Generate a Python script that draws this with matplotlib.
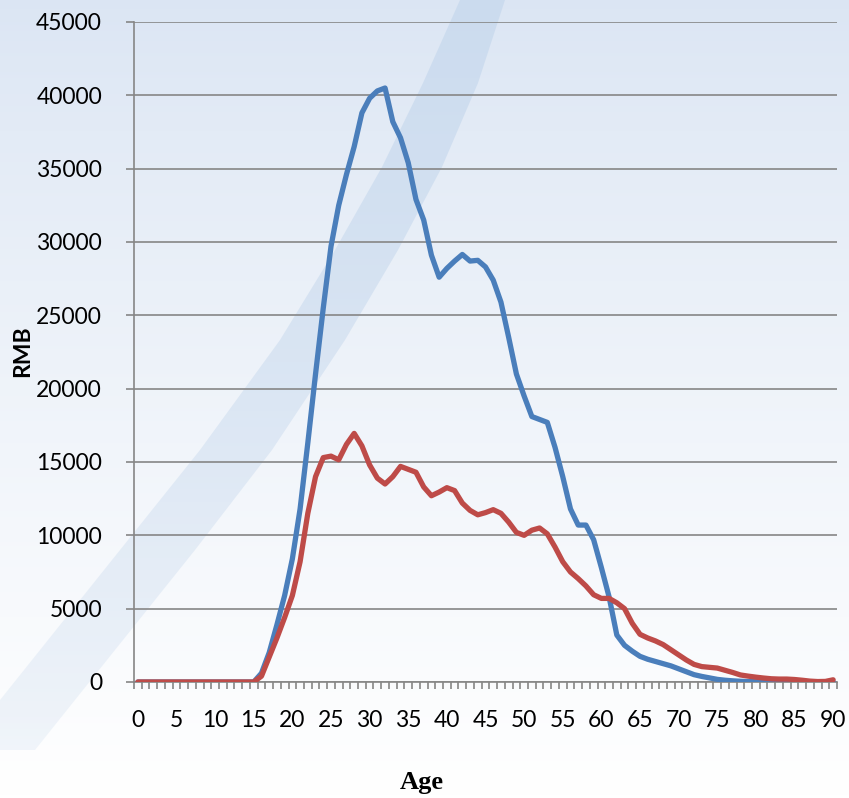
import numpy as np
import matplotlib.pyplot as plt
from matplotlib.patches import Polygon

ages = list(range(0, 91))

# blue series (upper curve)
blue = [0] * 16 + [
    600, 2000, 3900, 5900, 8400, 11800, 16300, 21000, 25500, 29700,      # 16-25
    32500, 34600, 36500, 38800, 39800, 40300, 40500, 38200, 37100, 35400,  # 26-35
    32900, 31500, 29100, 27600, 28200, 28700, 29150, 28700, 28750, 28300,  # 36-45
    27400, 25900, 23500, 21000, 19500, 18100, 17900, 17700, 16000, 14000,  # 46-55
    11800, 10700, 10700, 9700, 7800, 5800, 3200, 2500, 2100, 1750,         # 56-65
    1550, 1400, 1250, 1100, 900, 700, 500, 380, 280, 180,                  # 66-75
    120, 80, 50, 30, 20, 15, 10, 10, 5, 5,                                 # 76-85
    5, 0, 0, 0, 0]                                                         # 86-90

# red series (lower curve)
red = [0] * 16 + [
    400, 1700, 3000, 4400, 5900, 8200, 11500, 14000, 15300, 15400,         # 16-25
    15150, 16200, 16950, 16100, 14800, 13900, 13500, 14000, 14700, 14500,  # 26-35
    14300, 13300, 12700, 12950, 13250, 13050, 12200, 11700, 11400, 11550,  # 36-45
    11750, 11500, 10900, 10200, 10000, 10350, 10500, 10100, 9200, 8200,    # 46-55
    7500, 7050, 6550, 5950, 5700, 5700, 5400, 5000, 4000, 3250,            # 56-65
    3000, 2800, 2550, 2200, 1850, 1500, 1200, 1050, 1000, 950,             # 66-75
    800, 650, 480, 400, 330, 270, 220, 200, 200, 170,                      # 76-85
    120, 60, 30, 40, 150]                                                  # 86-90

yticks = list(range(0, 45001, 5000))
xticks = list(range(0, 91, 5))

W, H = 849, 798
fig = plt.figure(figsize=(W / 100, H / 100), dpi=100)

# slide-style background: vertical gradient plus a curved diagonal swoosh
bg = fig.add_axes([0, 0, 1, 1], zorder=-10)
grad = np.linspace(0, 1, 256)[:, None]
top = np.array([0.86, 0.90, 0.955])
bot = np.array([1.0, 1.0, 1.0])
img = top + (bot - top) * grad[..., None] ** 0.85
bg.imshow(img, extent=[0, W, H, 0], aspect='auto')

left_edge = [(460, 0), (423, 83), (382, 167), (335, 250), (280, 340),
             (200, 450), (120, 550), (40, 650), (-40, 750)]
right_edge = [(505, 0), (478, 83), (442, 167), (398, 250), (345, 340),
              (272, 450), (195, 550), (115, 650), (35, 750)]
band = Polygon(left_edge + right_edge[::-1], closed=True,
               facecolor='none', edgecolor='none')
bg.add_patch(band)
# band colour fades out towards the bottom-left
fade = np.zeros((256, 1, 4))
fade[..., 0], fade[..., 1], fade[..., 2] = 0.78, 0.85, 0.93
fade[..., 3] = (0.75 - 0.55 * np.linspace(0, 1, 256))[:, None]
band_img = bg.imshow(fade, extent=[0, W, H, 0], aspect='auto')
band_img.set_clip_path(band)
bg.set_xlim(0, W)
bg.set_ylim(H, 0)
bg.axis('off')

ax = fig.add_axes([134 / W, 1 - 682 / H, (837 - 134) / W, (682 - 22) / H])
ax.set_facecolor('none')

ax.plot(ages, blue, color='#4a7ebb', lw=3.8, solid_joinstyle='round',
        solid_capstyle='round', zorder=3)
ax.plot(ages, red, color='#be4b48', lw=3.8, solid_joinstyle='round',
        solid_capstyle='round', zorder=4)

ax.set_xlim(-0.5, 90.5)
ax.set_ylim(0, 45000)
ax.set_yticks(yticks)
ax.set_yticklabels([str(v) for v in yticks])
ax.set_xticks(xticks)
ax.set_xticklabels([str(v) for v in xticks])
ax.set_xticks(np.arange(-0.5, 91, 1), minor=True)

grid_col = '#868686'
ax.yaxis.grid(True, color=grid_col, lw=1.2)
ax.set_axisbelow(True)
for s in ['top', 'right']:
    ax.spines[s].set_visible(False)
for s in ['left', 'bottom']:
    ax.spines[s].set_color(grid_col)
    ax.spines[s].set_linewidth(1.2)

ax.tick_params(axis='y', length=6, width=1.2, color=grid_col, pad=17,
               labelsize=16.5)
ax.tick_params(axis='x', which='major', length=0, pad=20, labelsize=16.5)
ax.tick_params(axis='x', which='minor', length=5, width=1.2, color=grid_col)
for lab in ax.get_xticklabels() + ax.get_yticklabels():
    lab.set_family('Lato')

fig.text(23 / W, 1 - 351 / H, 'RMB', rotation=90, ha='center', va='center',
         fontsize=16.5, fontweight='bold', family='Lato')
fig.text(422 / W, 1 - 782 / H, 'Age', ha='center', va='center',
         fontsize=19, fontweight='bold', family='Liberation Serif')

fig.savefig('out.png', dpi=100)
